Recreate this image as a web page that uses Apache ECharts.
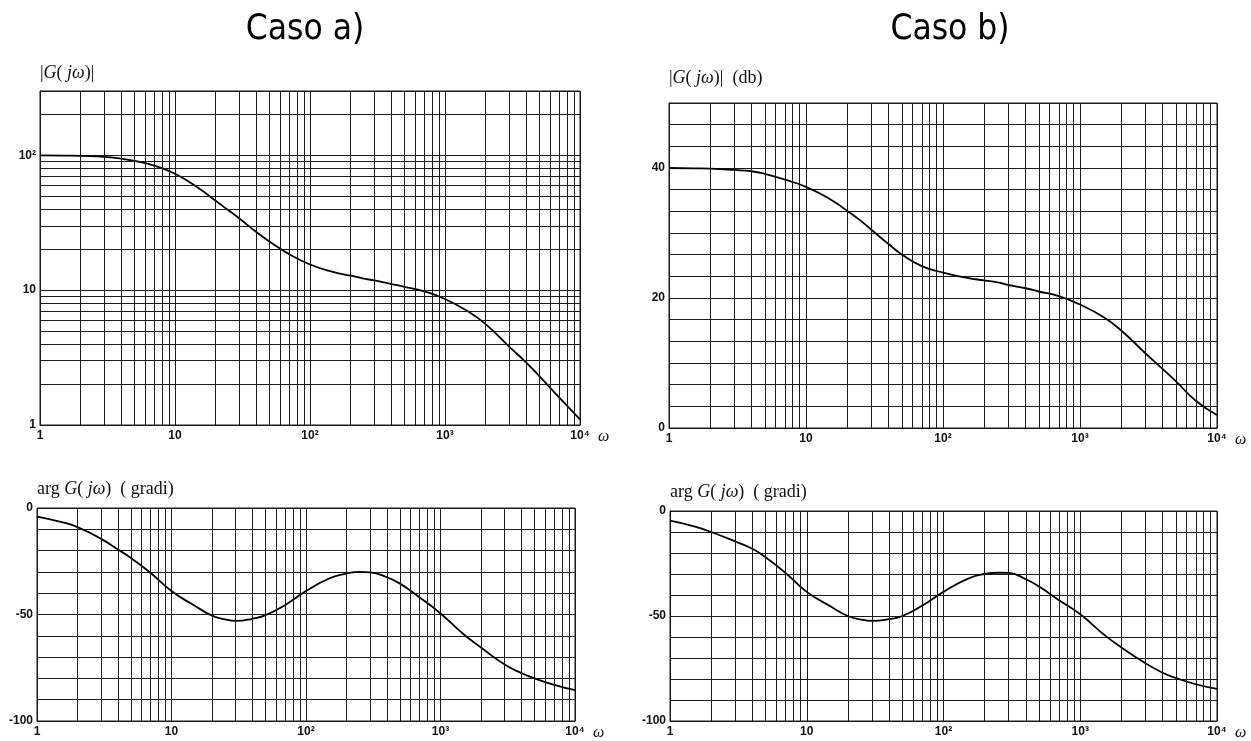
<!DOCTYPE html>
<html>
<head>
<meta charset="utf-8">
<script src="https://cdn.jsdelivr.net/npm/echarts@6/dist/echarts.min.js"></script>
<style>
html,body{margin:0;padding:0;background:#fff;}
#c{width:1251px;height:741px;}
</style>
</head>
<body>
<div id="c"></div>
<script>
// frequencies (rad/s)
const omega = [1,1.5,2,3,4,5,7,10,15,20,25,30,40,50,70,100,150,200,250,300,400,500,700,1000,1500,2000,3000,4000,5000,7000,10000];
// Caso a) magnitude (linear, log scale)
const magA = [100,99.5,99,97.5,94.5,91,84,73,57,46,39,34,27,23,18.5,15.5,13.6,12.8,12.2,11.8,11.1,10.6,9.8,8.6,6.9,5.6,3.8,2.9,2.3,1.6,1.1];
// Caso a) phase (degrees)
const phaseA = [-4,-6.5,-9,-14.5,-19.5,-23.5,-30.5,-39,-46,-50.5,-52.3,-53,-52,-50.3,-45.5,-39,-33,-30.8,-30,-30.2,-32.5,-35.5,-42,-49.5,-59.5,-65.5,-73.5,-77.5,-80,-83,-85.5];
// Caso b) magnitude (dB)
const magB = [40,39.95,39.9,39.7,39.5,39.1,38.2,37.1,35.2,33.4,31.9,30.5,28.3,26.7,24.9,23.9,23.1,22.7,22.4,22,21.5,21,20.3,19,17,15,11.5,9.1,7.2,4.2,2];
// Caso b) phase (degrees)
const phaseB = [-4.6,-7.3,-10,-14.5,-18,-22,-29.5,-38.5,-45.5,-50,-51.7,-52.3,-51.5,-50,-45,-38.5,-32.3,-30,-29.4,-29.5,-32.5,-36,-42.5,-49.2,-59,-65,-72.5,-77,-79.5,-82.5,-84.7];

// grid lines (minor decades)
const minorOmega = [2,3,4,5,6,7,8,9,20,30,40,50,60,70,80,90,200,300,400,500,600,700,800,900,2000,3000,4000,5000,6000,7000,8000,9000];
const minorMagA = [2,3,4,5,6,7,8,9,20,30,40,50,60,70,80,90,200];
const xTickLabels = ['1','10','10²','10³','10⁴'];
const logYLabels = ['1','10','10²'];
const phaseLabels = [0,-50,-100];
const dbLabels = [0,20,40];

const lineCol = '#1a1a1a';
const labelStyle = {color:'#111', fontSize:12, fontWeight:'bold', fontFamily:'Liberation Sans, Arial, sans-serif'};

function pair(ys){ return omega.map((w,i)=>[w, ys[i]]); }
function decadeIdx(v){ const e = Math.log10(v); const r = Math.round(e); return Math.abs(e-r) < 1e-6 ? r : -1; }
function inList(list, v){ return list.some(t=>Math.abs(t-v) < 0.01); }

function xAx(gi){
  return {
    type:'log', logBase:10, min:1, max:10000, gridIndex:gi,
    axisLine:{show:true, onZero:false, lineStyle:{color:lineCol, width:1}},
    axisTick:{show:false},
    splitLine:{show:true, lineStyle:{color:lineCol, width:1}},
    axisLabel:Object.assign({margin:5, formatter:v=>{const k=decadeIdx(v); return k>=0 ? xTickLabels[k] : '';}}, labelStyle),
    name:'ω', nameLocation:'end', nameGap:18,
    nameTextStyle:{fontFamily:'Liberation Serif, serif', fontStyle:'italic', fontSize:16, color:'#111', verticalAlign:'top', padding:[4,0,0,0]}
  };
}
function nameRich(){
  return {
    n:{fontFamily:'Liberation Serif, serif', fontSize:18, color:'#111'},
    i:{fontFamily:'Liberation Serif, serif', fontSize:18, fontStyle:'italic', color:'#111'}
  };
}
function markLines(extra){
  return {
    silent:true, symbol:['none','none'], label:{show:false}, animation:false,
    lineStyle:{type:'solid', color:lineCol, width:1}, emphasis:{disabled:true},
    data: minorOmega.map(v=>({xAxis:v})).concat(extra||[])
  };
}
function valY(gi, min, max, interval, labels, name, gap){
  return {type:'value', min:min, max:max, interval:interval, gridIndex:gi,
    axisLine:{show:true, lineStyle:{color:lineCol}}, axisTick:{show:false},
    splitLine:{show:true, lineStyle:{color:lineCol, width:1}},
    axisLabel:Object.assign({margin:4, formatter:v=>inList(labels, v) ? String(Math.round(v)) : ''}, labelStyle),
    name:name, nameLocation:'end', nameGap:gap,
    nameTextStyle:{align:'left', rich:nameRich()}};
}
const titleFont = {fontFamily:'Liberation Sans Narrow, DejaVu Sans Condensed, Liberation Sans, sans-serif', fontSize:35, fontWeight:'normal', color:'#000'};

const option = {
  backgroundColor:'#fff',
  animation:false,
  title:[
    {text:'Caso a)', left:300, top:7, textAlign:'center', textStyle:titleFont},
    {text:'Caso b)', left:945, top:7, textAlign:'center', textStyle:titleFont}
  ],
  grid:[
    {left:40, top:91, width:540, height:334, show:true, borderColor:lineCol, borderWidth:1},
    {left:37, top:508, width:538, height:214, show:true, borderColor:lineCol, borderWidth:1},
    {left:669, top:103, width:548, height:325, show:true, borderColor:lineCol, borderWidth:1},
    {left:670, top:511, width:547, height:217, show:true, borderColor:lineCol, borderWidth:1}
  ],
  xAxis:[xAx(0), xAx(1), xAx(2), xAx(3)],
  yAxis:[
    {type:'log', logBase:10, min:1, max:300, gridIndex:0,
     axisLine:{show:true, lineStyle:{color:lineCol}}, axisTick:{show:false},
     splitLine:{show:true, lineStyle:{color:lineCol, width:1}},
     axisLabel:Object.assign({margin:4, formatter:v=>{const k=decadeIdx(v); return k>=0 && k<3 ? logYLabels[k] : '';}}, labelStyle),
     name:'{n||}{i|G}{n|(}{i| jω}{n|)|}', nameLocation:'end', nameGap:9,
     nameTextStyle:{align:'left', rich:nameRich()}},
    valY(1, -100, 0, 10, phaseLabels, '{n|arg }{i|G}{n|(}{i| jω}{n|)  ( gradi)}', 10),
    valY(2, 0, 50, 10/3, dbLabels, '{n||}{i|G}{n|(}{i| jω}{n|)|  (db)}', 16),
    valY(3, -100, 0, 10, phaseLabels, '{n|arg }{i|G}{n|(}{i| jω}{n|)  ( gradi)}', 10)
  ],
  series:[
    {type:'line', xAxisIndex:0, yAxisIndex:0, data:pair(magA), smooth:0.5, showSymbol:false,
     lineStyle:{color:'#000', width:1.8}, markLine:markLines(minorMagA.map(v=>({yAxis:v})))},
    {type:'line', xAxisIndex:1, yAxisIndex:1, data:pair(phaseA), smooth:0.5, showSymbol:false,
     lineStyle:{color:'#000', width:1.8}, markLine:markLines()},
    {type:'line', xAxisIndex:2, yAxisIndex:2, data:pair(magB), smooth:0.5, showSymbol:false,
     lineStyle:{color:'#000', width:1.8}, markLine:markLines()},
    {type:'line', xAxisIndex:3, yAxisIndex:3, data:pair(phaseB), smooth:0.5, showSymbol:false,
     lineStyle:{color:'#000', width:1.8}, markLine:markLines()}
  ]
};
const chart = echarts.init(document.getElementById('c'), null, {renderer:'canvas', width:1251, height:741});
chart.setOption(option);
</script>
</body>
</html>
